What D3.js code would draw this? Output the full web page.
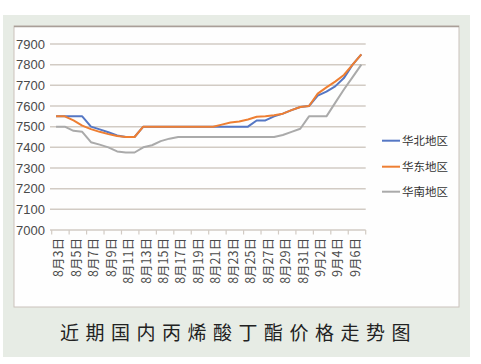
<!DOCTYPE html>
<html><head><meta charset="utf-8">
<script src="https://cdn.jsdelivr.net/npm/d3@7"></script>
<style>
html,body{margin:0;padding:0;background:#fff;}
svg{display:block;}
</style></head>
<body>
<svg id="c" width="481" height="364"></svg>
<script>
const categories = ["8月3日","8月4日","8月5日","8月6日","8月7日","8月8日","8月9日","8月10日","8月11日","8月12日",
"8月13日","8月14日","8月15日","8月16日","8月17日","8月18日","8月19日","8月20日","8月21日","8月22日",
"8月23日","8月24日","8月25日","8月26日","8月27日","8月28日","8月29日","8月30日","8月31日","9月1日",
"9月2日","9月3日","9月4日","9月5日","9月6日","9月7日"];
const north = [7550,7550,7550,7550,7500,7487,7473,7457,7450,7450,7500,7500,7500,7500,7500,7500,7500,7500,7500,7500,7500,7500,7500,7530,7530,7550,7563,7580,7595,7600,7650,7670,7695,7735,7800,7850];
const east  = [7550,7550,7530,7505,7488,7475,7464,7455,7450,7450,7500,7500,7500,7500,7500,7500,7500,7500,7500,7510,7520,7525,7535,7548,7550,7555,7563,7580,7595,7600,7660,7690,7718,7750,7800,7850];
const south = [7500,7500,7480,7475,7425,7413,7400,7380,7375,7375,7400,7410,7430,7442,7450,7450,7450,7450,7450,7450,7450,7450,7450,7450,7450,7450,7460,7475,7490,7550,7550,7550,7615,7680,7740,7800];
const seriesNames = ["华北地区","华东地区","华南地区"];
const seriesColors = ["#5577c4","#ee7f33","#aaaaaa"];
const yTicks = [7000,7100,7200,7300,7400,7500,7600,7700,7800,7900];
const title = "近期国内丙烯酸丁酯价格走势图";

const svg = d3.select("#c");
svg.append("rect").attr("x",3).attr("y",15).attr("width",467).attr("height",342).attr("fill","#e7ece5");
svg.append("rect").attr("x",14).attr("y",26).attr("width",445).attr("height",281)
  .attr("fill","#fefefe").attr("stroke","#cbc2bc").attr("stroke-width",1);
svg.append("line").attr("x1",14).attr("x2",459).attr("y1",26.5).attr("y2",26.5).attr("stroke","#a99f98").attr("stroke-width",1.5);

const x = d3.scaleBand().domain(categories).range([51.7,365.7]).paddingInner(0).paddingOuter(0);
const y = d3.scaleLinear().domain([7000,7900]).range([230,44]);
const bw = x.bandwidth();

svg.append("g").selectAll("line").data(yTicks).join("line")
  .attr("x1",50).attr("x2",365.7).attr("y1",d=>y(d)).attr("y2",d=>y(d))
  .attr("stroke","#d2cbc4").attr("stroke-width",1.5);
svg.append("g").selectAll("text").data(yTicks).join("text")
  .attr("x",45).attr("y",d=>y(d)).attr("dy","0.35em").attr("text-anchor","end")
  .attr("font-family","'Liberation Sans Narrow','Arial Narrow',sans-serif").attr("font-size",13)
  .attr("fill","#4a4a4a").text(d=>d);

const tickIdx = categories.map((c,i)=>i).filter(i=>i%2===0);
const tickPos = tickIdx.map(i=>x(categories[i])).concat([x.range()[1]]);
svg.append("g").selectAll("line").data(tickPos).join("line")
  .attr("x1",d=>d).attr("x2",d=>d).attr("y1",230).attr("y2",234.5)
  .attr("stroke","#d2cbc4").attr("stroke-width",1.2);
svg.append("g").selectAll("text").data(tickIdx).join("text")
  .attr("transform",i=>`translate(${x(categories[i])+bw-1.5},238) rotate(-90)`)
  .attr("text-anchor","end").attr("dy","0.35em")
  .attr("font-family","'Noto Sans CJK SC',sans-serif").attr("font-size",12.5)
  .attr("fill","#4a4a4a").text(i=>categories[i]);

const line = d3.line().x((d,i)=>x(categories[i])+bw/2).y(d=>y(d));
[north,east,south].forEach((s,k)=>{
  svg.append("path").datum(s).attr("d",line).attr("fill","none")
    .attr("stroke",seriesColors[k]).attr("stroke-width",2).attr("stroke-linejoin","round");
});

const ly = [140.7,166.7,191.7];
seriesNames.forEach((n,k)=>{
  svg.append("line").attr("x1",382).attr("x2",400).attr("y1",ly[k]).attr("y2",ly[k])
    .attr("stroke",seriesColors[k]).attr("stroke-width",2);
  svg.append("text").attr("x",402).attr("y",ly[k]).attr("dy","0.35em")
    .attr("font-family","'Noto Sans CJK SC',sans-serif").attr("font-size",11.5)
    .attr("fill","#333").text(n);
});

svg.append("text").attr("x",60).attr("y",339.5)
  .attr("font-family","'Noto Sans CJK SC',sans-serif").attr("font-size",19)
  .attr("letter-spacing","6.5px").attr("fill","#222").text(title);
</script>
</body></html>
